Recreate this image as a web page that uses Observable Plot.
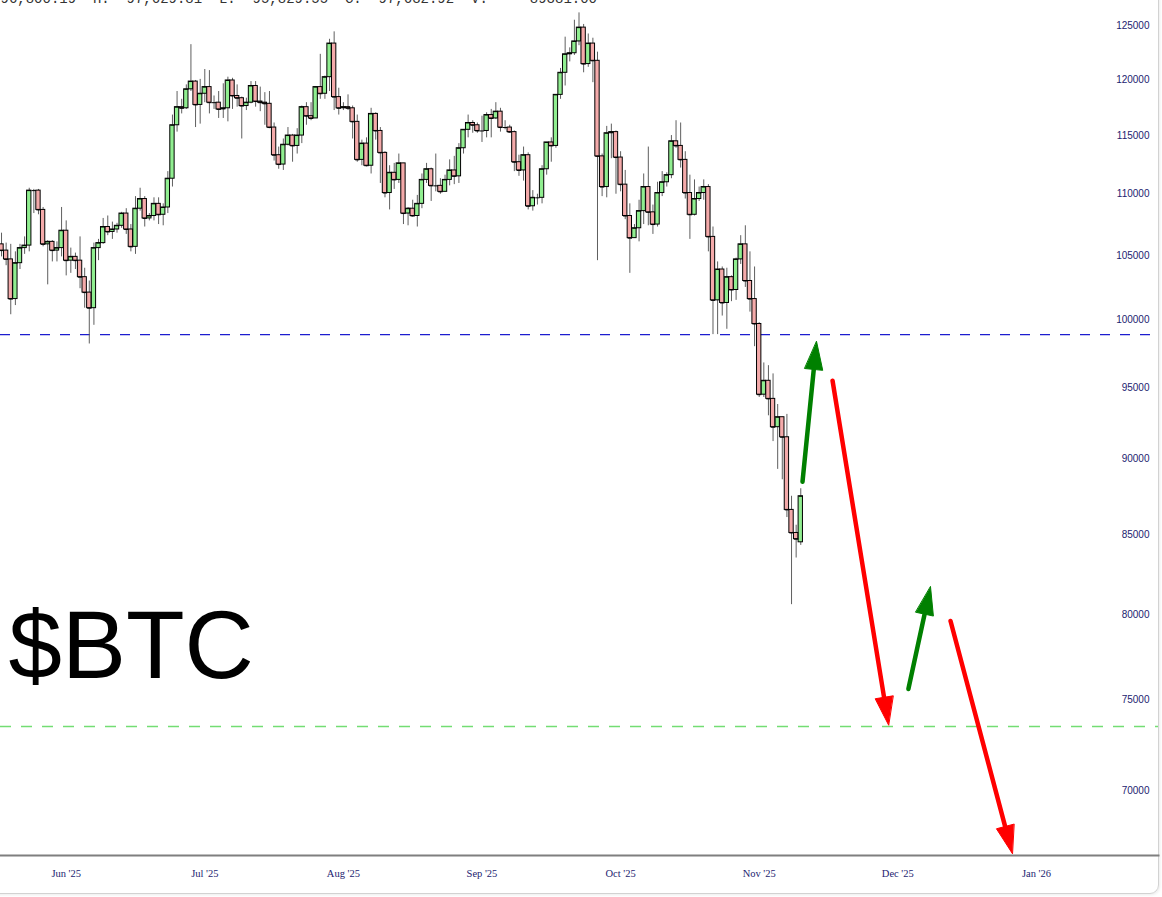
<!DOCTYPE html>
<html>
<head>
<meta charset="utf-8">
<script src="https://cdn.jsdelivr.net/npm/d3@7"></script>
<script src="https://cdn.jsdelivr.net/npm/@observablehq/plot@0.6"></script>
<style>
  html, body { margin: 0; padding: 0; background: #fff; overflow: hidden; }
  #wrap { position: relative; width: 1162px; height: 897px; overflow: hidden; background: #fff; }
  #card { position: absolute; left: -12px; top: -12px; width: 1171px; height: 906px; box-sizing: border-box;
          border: 1px solid #d2d2d2; border-radius: 9px; box-shadow: 1px 1px 3px rgba(0,0,0,0.08); }
  #chart { position: absolute; left: 0; top: 0; }
</style>
</head>
<body>
<div id="wrap"><div id="card"></div><div id="chart"></div></div>
<script>
// ---------------- DATA (prices in thousands of USD, one daily candle per day) ----------------
const firstDay = "2025-06-01";

const openK = [
  104.6,105.7,105.9,105.4,104.7,101.6,104.4,105.6,105.8,110.3,110.3,108.7,105.9,106.1,105.4,105.6,107.0,104.6,104.9,104.6,103.3,102.1,100.9,105.6,106.0,107.3,106.9,107.1,107.4,108.4,
  107.1,105.7,108.8,109.6,108.0,108.2,109.2,108.3,108.9,111.3,115.9,117.5,117.4,119.1,119.8,117.7,118.7,119.3,117.9,117.9,117.3,117.4,119.9,118.5,118.3,117.6,117.9,119.4,118.0,117.9,117.8,
  115.7,113.3,112.5,114.2,115.0,114.1,115.0,117.5,116.7,116.5,119.3,118.7,120.2,123.3,118.4,117.4,117.5,117.4,116.2,112.9,114.3,112.4,116.9,115.4,113.5,110.1,111.8,111.2,112.6,108.4,108.8,
  108.2,109.2,111.2,112.1,110.7,110.7,110.2,111.2,112.0,111.5,113.9,115.5,116.1,115.9,115.4,115.4,116.8,116.5,117.1,115.7,115.7,115.3,112.7,112.0,113.3,109.0,109.7,109.7,112.1,114.4,
  114.1,118.6,120.6,122.3,122.4,123.5,124.8,121.4,123.3,121.7,113.2,110.6,115.2,115.3,113.1,110.8,108.2,106.4,107.2,108.6,110.6,108.5,107.5,110.1,111.0,111.6,114.5,114.1,112.9,110.1,108.3,
  109.6,110.1,110.6,106.5,101.5,103.9,101.3,103.3,102.3,104.7,105.9,103.0,101.6,99.7,94.5,95.5,94.2,92.2,92.9,91.5,86.6,85.1,84.5
];
const highK = [
  105.9,105.9,106.8,106.0,105.9,105.3,105.9,106.5,110.5,110.4,110.4,108.9,106.2,106.2,106.1,108.9,107.8,105.6,105.2,106.5,104.0,103.0,106.0,106.3,108.0,108.2,107.7,107.6,108.5,108.8,
  107.5,109.8,110.5,109.8,108.4,109.7,109.7,109.2,111.9,116.8,118.9,118.2,119.5,123.2,119.9,120.0,120.9,120.8,118.5,118.9,119.6,120.2,120.1,119.5,118.4,118.3,119.8,119.8,119.3,118.8,118.9,
  116.1,114.0,114.7,115.7,115.1,115.6,117.6,117.9,117.9,119.3,122.3,120.3,123.7,124.4,119.2,117.9,118.6,117.6,116.8,114.6,114.8,117.4,117.0,115.7,113.6,112.4,112.6,113.4,112.6,108.9,109.5,
  109.9,111.7,112.6,112.2,113.4,111.3,111.6,112.9,113.2,114.3,115.5,116.8,116.3,116.1,116.7,117.0,117.3,117.9,117.4,116.3,115.9,115.4,113.3,114.0,113.5,110.3,110.0,112.4,114.4,114.8,
  118.6,121.0,123.9,122.9,125.5,126.2,125.1,124.2,123.8,122.5,113.4,115.8,116.0,115.4,113.6,112.0,109.2,107.5,109.5,111.7,114.0,109.1,111.0,111.9,111.8,115.0,116.3,116.1,113.6,111.6,111.2,
  110.6,111.2,110.8,107.3,104.5,104.1,104.0,103.4,104.8,106.6,107.4,105.3,104.1,99.8,96.8,96.6,96.0,93.8,92.9,93.1,87.5,85.6,88.0
];
const lowK = [
  103.9,103.7,104.9,104.2,100.4,101.1,103.9,105.1,105.3,108.4,108.3,105.7,102.7,104.5,104.5,104.9,103.4,103.6,103.9,102.4,100.9,98.2,99.6,104.6,105.9,106.6,106.3,106.8,107.2,106.7,
  105.3,105.1,108.6,107.3,107.8,107.8,107.5,107.4,108.4,110.6,115.3,116.9,117.3,118.9,115.7,116.0,117.9,116.9,117.3,116.5,116.5,116.2,117.3,117.5,114.7,117.2,117.8,117.5,117.1,115.9,115.6,
  112.8,112.1,112.0,114.1,112.7,113.4,114.3,115.9,116.3,116.5,118.2,118.2,118.9,117.2,116.8,117.2,117.2,114.7,112.7,112.4,112.3,111.7,114.6,110.9,109.7,108.7,110.4,110.9,107.5,107.4,108.1,
  107.3,108.8,110.9,109.4,110.2,110.0,110.2,110.7,110.8,110.9,113.4,114.8,115.2,115.2,114.4,114.8,114.8,116.4,115.3,115.5,115.2,111.9,111.5,111.1,108.7,108.6,109.1,109.2,111.6,112.7,
  113.9,118.2,119.4,121.6,122.2,123.1,120.6,121.1,119.7,104.6,109.8,109.7,113.0,110.0,110.2,107.9,103.6,106.4,106.1,107.5,107.4,106.7,107.3,109.8,110.6,111.3,113.9,112.2,109.6,106.3,108.2,
  109.4,109.5,105.3,98.9,98.9,100.3,99.3,101.4,101.5,104.3,102.5,100.6,98.0,94.3,94.3,93.0,91.2,89.3,88.6,86.1,80.6,83.5,84.3
];
const closeK = [
  105.7,105.9,105.4,104.7,101.6,104.4,105.6,105.8,110.3,110.3,108.7,105.9,106.1,105.4,105.6,107.0,104.6,104.9,104.6,103.3,102.1,100.9,105.6,106.0,107.3,106.9,107.1,107.4,108.4,107.1,
  105.7,108.8,109.6,108.0,108.2,109.2,108.3,108.9,111.3,115.9,117.5,117.4,119.1,119.8,117.7,118.7,119.3,117.9,117.9,117.3,117.4,119.9,118.5,118.3,117.6,117.9,119.4,118.0,117.9,117.8,115.7,
  113.3,112.5,114.2,115.0,114.1,115.0,117.5,116.7,116.5,119.3,118.7,120.2,123.3,118.4,117.4,117.5,117.4,116.2,112.9,114.3,112.4,116.9,115.4,113.5,110.1,111.8,111.2,112.6,108.4,108.8,108.2,
  109.2,111.2,112.1,110.7,110.7,110.2,111.2,112.0,111.5,113.9,115.5,116.1,115.9,115.4,115.4,116.8,116.5,117.1,115.7,115.7,115.3,112.7,112.0,113.3,109.0,109.7,109.7,112.1,114.4,114.1,
  118.6,120.6,122.3,122.4,123.5,124.8,121.4,123.3,121.7,113.2,110.6,115.2,115.3,113.1,110.8,108.2,106.4,107.2,108.6,110.6,108.5,107.5,110.1,111.0,111.6,114.5,114.1,112.9,110.1,108.3,109.6,
  110.1,110.6,106.5,101.5,103.9,101.3,103.3,102.3,104.7,105.9,103.0,101.6,99.7,94.5,95.5,94.2,92.2,92.9,91.5,86.6,85.1,84.7,87.5
];

// horizontal levels
const supportLevel = 98900;   // blue dashed
const targetLevel = 73500;    // green dashed

// projected-path arrows (start -> tip)
const arrowStartDate  = ["2025-11-23T09:00Z", "2025-11-29T21:00Z", "2025-12-16T07:00Z", "2025-12-25T10:00Z"];
const arrowStartPrice = [88470, 95510, 75610, 79610];
const arrowEndDate    = ["2025-11-26T10:00Z", "2025-12-12T00:00Z", "2025-12-21T02:00Z", "2026-01-07T19:00Z"];
const arrowEndPrice   = [98380, 73580, 81700, 66750];
const arrowColors     = ["#008000", "#ff0000", "#008000", "#ff0000"];

// axis ticks
const yTickValues = [70000, 75000, 80000, 85000, 90000, 95000, 100000, 105000, 110000, 115000, 120000, 125000];
const xTickDates  = ["2025-06-17", "2025-07-17", "2025-08-16", "2025-09-15", "2025-10-15", "2025-11-14", "2025-12-14", "2026-01-13"];
const xTickLabels = ["Jun '25", "Jul '25", "Aug '25", "Sep '25", "Oct '25", "Nov '25", "Dec '25", "Jan '26"];

const tickerLabel = "$BTC";
const headerText = "96,800.19  H:  97,629.81  L:  95,829.55  C:  97,632.92  V:     89381.00";

// ---------------- BUILD ----------------
const W = 1162, H = 897;
const xScaleOpts = { type: "utc", domain: [new Date("2025-06-02T18:43Z"), new Date("2026-02-08T10:19Z")], range: [0, 1158] };
const yScaleOpts = { type: "log", domain: [66650, 127390], range: [855, 0] };

const start = new Date(firstDay + "T00:00Z");
const DAY = 864e5;
const candles = closeK.map((c, i) => {
  const o = openK[i];
  return {
    date: d3.utcDay.offset(start, i),
    open: o * 1000,
    close: c * 1000,
    high: Math.max(highK[i], o, c) * 1000,
    low: Math.min(lowK[i], o, c) * 1000
  };
});
const up = candles.filter(d => d.close >= d.open);
const down = candles.filter(d => d.close < d.open);
const left = d => new Date(+d.date - 0.47 * DAY);
const right = d => new Date(+d.date + 0.47 * DAY);

const xs = Plot.scale({ x: xScaleOpts });
const ys = Plot.scale({ y: yScaleOpts });

const HEAD_LEN = 28, HEAD_HALF = 9;
const arrows = arrowColors.map((color, i) => {
  const a = { x1: new Date(arrowStartDate[i]), y1: arrowStartPrice[i], x2: new Date(arrowEndDate[i]), y2: arrowEndPrice[i], color };
  const px1 = xs.apply(a.x1), py1 = ys.apply(a.y1), px2 = xs.apply(a.x2), py2 = ys.apply(a.y2);
  const dx = px2 - px1, dy = py2 - py1, len = Math.hypot(dx, dy);
  const ux = dx / len, uy = dy / len;
  const bx = px2 - ux * HEAD_LEN, by = py2 - uy * HEAD_LEN;
  a.head = [[px2, py2], [bx - uy * HEAD_HALF, by + ux * HEAD_HALF], [bx + uy * HEAD_HALF, by - ux * HEAD_HALF]]
    .map(([x, y]) => ({ x: xs.invert(x), y: ys.invert(y) }));
  a.sx2 = xs.invert(bx + ux * 4);
  a.sy2 = ys.invert(by + uy * 4);
  return a;
});

const labelColor = "#1c1c70";

const plot = Plot.plot({
  width: W,
  height: H,
  marginTop: 0,
  marginLeft: 0,
  marginRight: 4,
  marginBottom: 42,
  style: { background: "transparent", overflow: "hidden" },
  x: { ...xScaleOpts, axis: null },
  y: { ...yScaleOpts, axis: null },
  marks: [
    // header (cropped at top, as in the reference)
    Plot.text([headerText], { text: d => d, frameAnchor: "top-left", textAnchor: "start", lineAnchor: "bottom", dx: 0, dy: 2,
      fontFamily: "Liberation Mono, DejaVu Sans Mono, monospace", fontSize: 14, fill: "#333" }),
    // levels
    Plot.ruleY([supportLevel], { stroke: "#1c1ccf", strokeWidth: 1.2, strokeDasharray: "10,10" }),
    Plot.ruleY([targetLevel], { stroke: "#73dd73", strokeWidth: 1.5, strokeDasharray: "11,10" }),
    // wicks
    Plot.ruleX(candles, { x: "date", y1: "low", y2: "high", stroke: "#5f5f5f", strokeWidth: 1, clip: true }),
    // bodies
    Plot.rect(up, { x1: left, x2: right, y1: "open", y2: "close", fill: "#90ee90", stroke: "#000", strokeWidth: 1, clip: true }),
    Plot.rect(down, { x1: left, x2: right, y1: "open", y2: "close", fill: "#f4aaaa", stroke: "#000", strokeWidth: 1, clip: true }),
    Plot.link(candles, { x1: left, x2: right, y1: "close", y2: "close", stroke: "#000", strokeWidth: 1, clip: true }),
    // bottom axis line
    Plot.frame({ anchor: "bottom", stroke: "#7f7f7f", strokeWidth: 2 }),
    // y tick labels (inside, right)
    Plot.text(yTickValues, { y: d => d, text: d => String(d), frameAnchor: "right", textAnchor: "end", lineAnchor: "middle", dx: -9,
      fontFamily: "Liberation Sans, Arial, sans-serif", fontSize: 10, fill: labelColor }),
    // x tick labels
    Plot.text(xTickDates.map((d, i) => ({ date: new Date(d + "T00:00Z"), label: xTickLabels[i] })), {
      x: "date", text: "label", frameAnchor: "bottom", lineAnchor: "middle", dy: 18,
      fontFamily: "Liberation Serif, Times New Roman, serif", fontSize: 10.5, fill: labelColor }),
    // arrows
    ...arrows.flatMap(a => [
      Plot.link([a], { x1: "x1", y1: "y1", x2: "sx2", y2: "sy2", stroke: a.color, strokeWidth: 4.5, strokeLinecap: "round" }),
      Plot.line(a.head, { x: "x", y: "y", fill: a.color, stroke: a.color, strokeWidth: 1, curve: "linear-closed" })
    ]),
    // ticker label
    Plot.text([tickerLabel], { text: d => d, frameAnchor: "top-left", textAnchor: "start", lineAnchor: "bottom", dx: 8, dy: 677,
      fontFamily: "Liberation Sans, Arial, sans-serif", fontSize: 96, fill: "#000" })
  ]
});
document.getElementById("chart").appendChild(plot);
</script>
</body>
</html>
